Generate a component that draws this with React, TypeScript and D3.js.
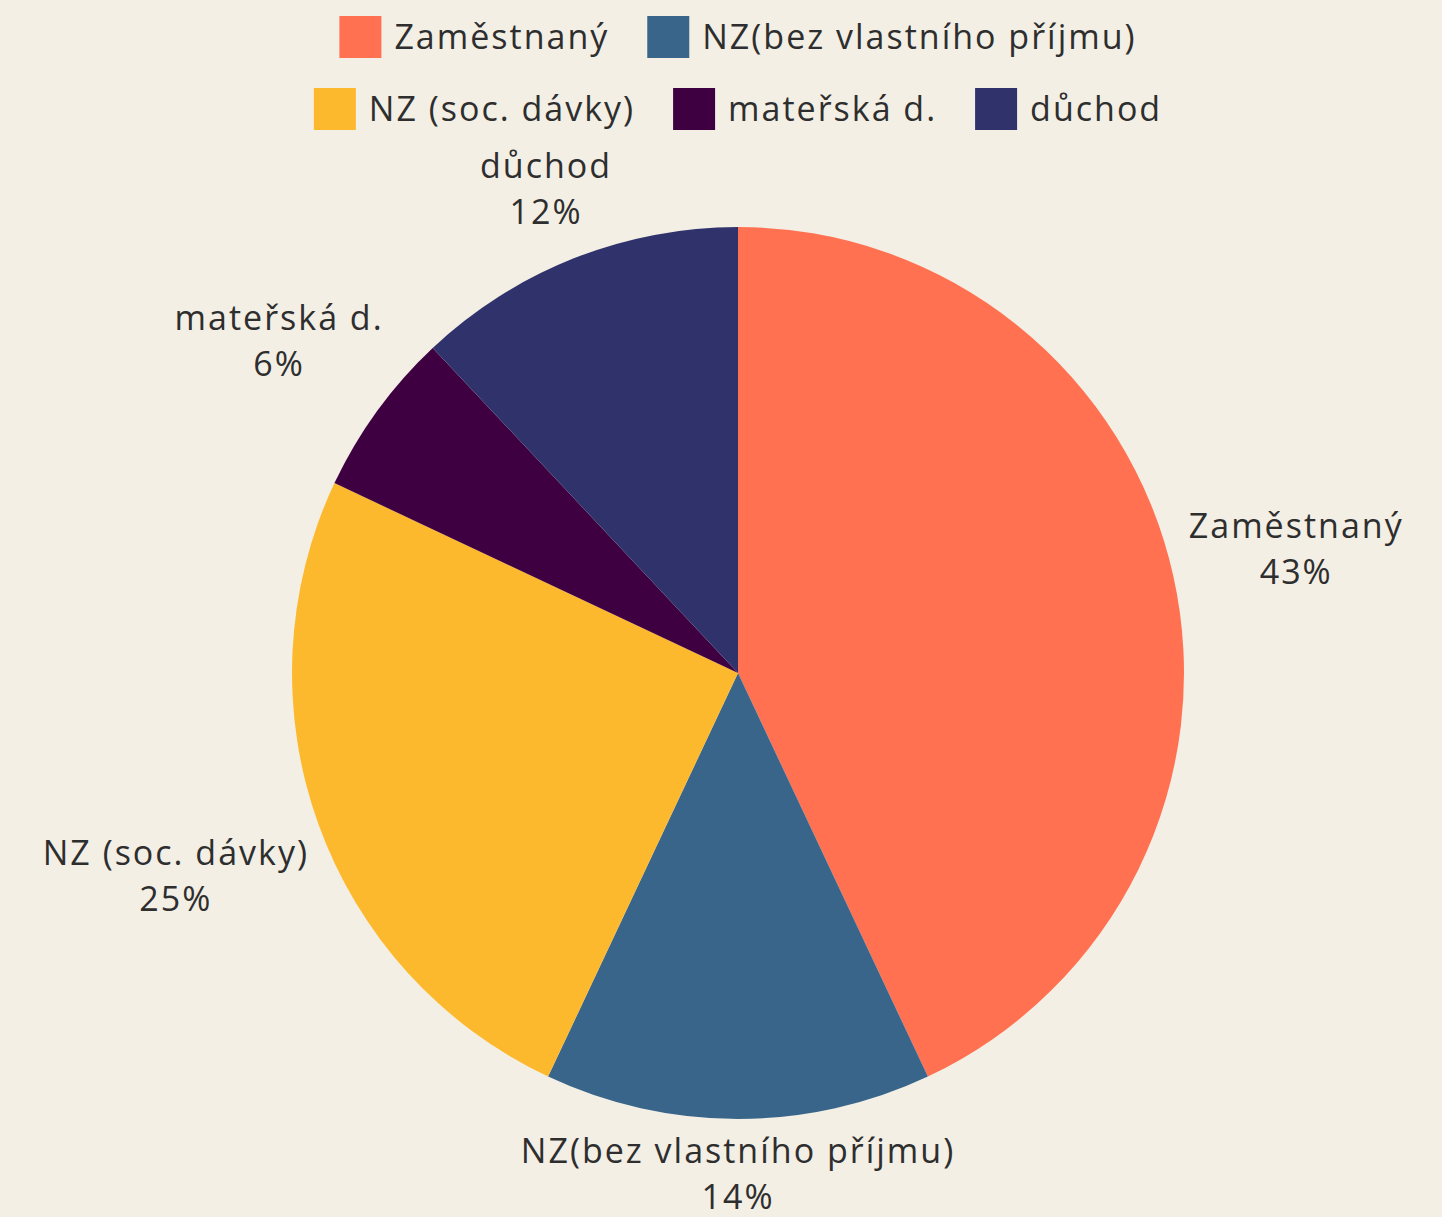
import React, { useEffect, useRef } from "react";
import * as d3 from "d3";

// data
const categories = [
  "Zaměstnaný",
  "NZ(bez vlastního příjmu)",
  "NZ (soc. dávky)",
  "mateřská d.",
  "důchod",
];
const values = [43, 14, 25, 6, 12];
const colors = ["#ff7150", "#39658a", "#fdb92e", "#3f0041", "#30336b"];
const legendRows = [[0, 1], [2, 3, 4]];

const W = 1442;
const H = 1217;
const FONT = "'Open Sans', sans-serif";
const FS = 34;
const LS = 2; // letter spacing

const App = () => {
  const svgRef = useRef<SVGSVGElement>(null);

  useEffect(() => {
    document.body.style.margin = "0";
    const svg = d3.select(svgRef.current);
    svg.selectAll("*").remove();

    svg.append("rect").attr("width", W).attr("height", H).attr("fill", "#f3efe5");

    const cx = 738;
    const cy = 673;
    const radius = 446;

    const data = categories.map((c, i) => ({ name: c, value: values[i], color: colors[i] }));
    const pie = d3.pie<any>().sort(null).value((d) => d.value);
    const arcs = pie(data);
    const arc = d3.arc<any>().innerRadius(0).outerRadius(radius);

    const g = svg.append("g").attr("transform", `translate(${cx},${cy})`);

    g.selectAll("path.slice")
      .data(arcs)
      .join("path")
      .attr("class", "slice")
      .attr("d", arc)
      .attr("fill", (d) => d.data.color);

    // labels outside the pie, box pushed out along the mid-angle ray
    const gap = 12;
    arcs.forEach((a) => {
      const mid = (a.startAngle + a.endAngle) / 2;
      const sx = Math.sin(mid);
      const sy = -Math.cos(mid);
      const t = g
        .append("text")
        .attr("font-family", FONT)
        .attr("font-size", FS)
        .attr("font-weight", 500)
        .attr("letter-spacing", LS)
        .attr("fill", "#2e2e2e")
        .attr("text-anchor", "middle");
      t.append("tspan").attr("x", 0).attr("dy", 0).text(a.data.name);
      t.append("tspan").attr("x", 0).attr("dy", 46).text(`${a.data.value}%`);
      const bb = (t.node() as SVGTextElement).getBBox();
      const h = 84;
      const support = (Math.abs(sx) * bb.width) / 2 + (Math.abs(sy) * h) / 2;
      const d = radius + gap + support;
      const px = sx * d;
      const py = sy * d;
      const bcx = bb.x + bb.width / 2;
      const bcy = bb.y + bb.height / 2;
      t.attr("transform", `translate(${px - bcx},${py - bcy})`);
    });

    // legend
    const sw = 42;
    const gapText = 13;
    const gapItem = 38;
    const rowY = [37, 109];
    legendRows.forEach((row, ri) => {
      const lg = svg.append("g");
      let x = 0;
      row.forEach((idx) => {
        lg.append("rect")
          .attr("x", x)
          .attr("y", rowY[ri] - sw / 2)
          .attr("width", sw)
          .attr("height", sw)
          .attr("fill", colors[idx]);
        const t = lg
          .append("text")
          .attr("x", x + sw + gapText)
          .attr("y", rowY[ri])
          .attr("dy", "0.35em")
          .attr("font-family", FONT)
          .attr("font-size", FS)
          .attr("font-weight", 500)
          .attr("letter-spacing", LS)
          .attr("fill", "#2e2e2e")
          .text(categories[idx]);
        const w = (t.node() as SVGTextElement).getBBox().width;
        x += sw + gapText + w + gapItem;
      });
      const total = x - gapItem;
      lg.attr("transform", `translate(${cx - total / 2},0)`);
    });
  }, []);

  return <svg ref={svgRef} width={W} height={H} style={{ display: "block" }}></svg>;
};

export default App;
